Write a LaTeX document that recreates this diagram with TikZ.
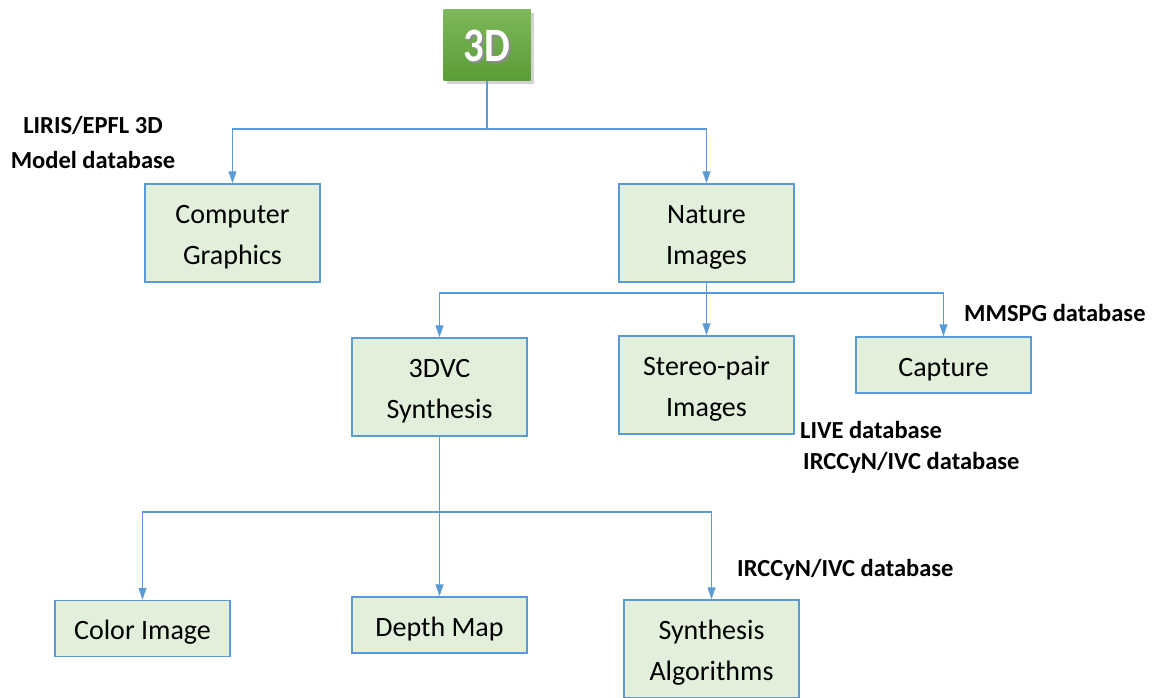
\documentclass[tikz,border=0pt]{standalone}
\usepackage{fontspec}
\setmainfont{Carlito}
\usetikzlibrary{arrows.meta,shadows}
\definecolor{linkblue}{HTML}{5B9BD5}
\definecolor{boxfill}{HTML}{E2EFDA}
\definecolor{rootlight}{HTML}{7DB85A}
\definecolor{rootdark}{HTML}{5A9C36}
% box text, drawn a little below the box centre
\newcommand{\boxtext}[1]{\raisebox{-3pt}[\height][\depth]{\begin{tabular}{@{}c@{}}#1\end{tabular}}}
\tikzset{
  leaf/.style={draw=linkblue, line width=1.5pt, fill=boxfill, minimum width=175pt,
    inner sep=0pt, font=\fontsize{28}{41}\selectfont},
  tall/.style={leaf, minimum height=98pt},
  short/.style={leaf, minimum height=56pt},
  conn/.style={draw=linkblue, line width=1.2pt, -{Triangle[width=8pt,length=12pt]}},
  dblabel/.style={font=\bfseries\fontsize{24.5}{35}\selectfont, inner sep=0pt},
}
\begin{document}
\begin{tikzpicture}[x=1pt,y=-1pt]
\useasboundingbox (0,0) rectangle (1156,698);
\begin{scope}
\clip (0,0) rectangle (1156,698);

% root
\node[minimum width=87pt, minimum height=71pt, inner sep=0pt,
      top color=rootlight, bottom color=rootdark,
      drop shadow={shadow xshift=3pt, shadow yshift=-3pt, opacity=0.35}]
      (root) at (487,45.5) {};
\node[text=black!45, font=\bfseries\fontsize{48}{48}\selectfont, xscale=0.85] (rootshadow) at (489,47.5) {3D};
\node[text=white, font=\bfseries\fontsize{48}{48}\selectfont, xscale=0.85] (roottext) at (487,45.5) {3D};

% first level
\node[tall] (cg) at (232.5,233) {\boxtext{Computer\\Graphics}};
\node[tall] (nat) at (706.5,233) {\boxtext{Nature\\Images}};

% second level
\node[tall] (vc) at (439.5,387) {\boxtext{3DVC\\Synthesis}};
\node[tall] (sp) at (706.5,385) {\boxtext{Stereo-pair\\Images}};
\node[short] (cap) at (943.5,365) {\boxtext{Capture}};

% third level
\node[short] (col) at (142.5,628.5) {\boxtext{Color Image}};
\node[short] (dep) at (439.5,625) {\boxtext{Depth Map}};
\node[tall] (alg) at (711.5,649) {\boxtext{Synthesis\\Algorithms}};

% bus heights
\coordinate (bus1) at (0,129);
\coordinate (bus2) at (0,293);
\coordinate (bus3) at (0,512);

% connectors
\draw[conn] (root.south) -- (root.south |- bus1) -| (cg.north);
\draw[conn] (root.south |- bus1) -| (nat.north);
\draw[conn] (nat.south) -- (nat.south |- bus2) -| (vc.north);
\draw[conn] (nat.south |- bus2) -- (sp.north);
\draw[conn] (nat.south |- bus2) -| (cap.north);
\draw[conn] (vc.south) -- (dep.north);
\draw[conn] (vc.south |- bus3) -| (col.north);
\draw[conn] (vc.south |- bus3) -| (alg.north);

% database labels
\node[dblabel, align=center] (liris) at (93,142) {LIRIS/EPFL 3D\\Model database};
\node[dblabel, anchor=west] (mmspg) at (964,313) {MMSPG database};
\node[dblabel, anchor=west] (live) at (800,430) {LIVE database};
\node[dblabel, anchor=west] (irc1) at (803,463) {IRCCyN/IVC database};
\node[dblabel, anchor=west] (irc2) at (737,570) {IRCCyN/IVC database};
\end{scope}
\end{tikzpicture}
\end{document}
